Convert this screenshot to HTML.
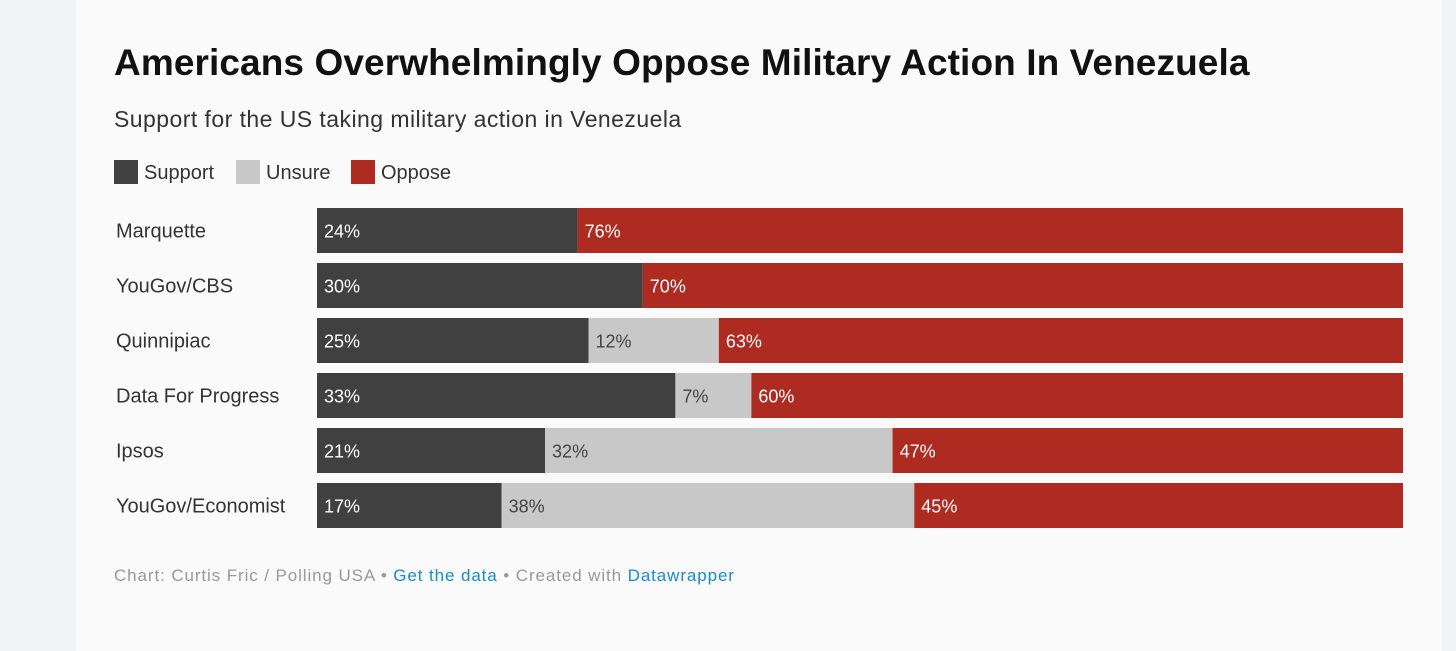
<!DOCTYPE html>
<html><head><meta charset="utf-8">
<style>
body{margin:0;width:1456px;height:651px;background:#f2f3f5;font-family:"Liberation Sans",sans-serif;position:relative;overflow:hidden}
#card{position:absolute;left:76px;top:0;width:1366px;height:651px;background:#fafafa}
.t{position:absolute;white-space:nowrap}
</style></head><body>
<div id="card"></div>
<div class="t" style="left:114px;top:42px;font-size:37px;font-weight:bold;color:#111;letter-spacing:0.1px">Americans Overwhelmingly Oppose Military Action In Venezuela</div>
<div class="t" style="left:114px;top:106px;font-size:23px;color:#333;letter-spacing:0.45px">Support for the US taking military action in Venezuela</div>
<div>
<div class="t" style="left:114px;top:160px;font-size:20px;color:#333"><span style="display:inline-block;width:24px;height:24px;background:#404040;vertical-align:-5px;margin-right:6px"></span>Support</div>
<div class="t" style="left:236px;top:160px;font-size:20px;color:#333"><span style="display:inline-block;width:24px;height:24px;background:#c8c8c8;vertical-align:-5px;margin-right:6px"></span>Unsure</div>
<div class="t" style="left:351px;top:160px;font-size:20px;color:#333"><span style="display:inline-block;width:24px;height:24px;background:#ad2b20;vertical-align:-5px;margin-right:6px"></span>Oppose</div>
</div>
<svg id="chart" width="1456" height="651" style="position:absolute;left:0;top:0"></svg>
<div class="t" style="left:114px;top:566px;font-size:17px;color:#999;letter-spacing:0.9px">Chart: Curtis Fric / Polling USA • <span style="color:#1a8ac6">Get the data</span> • Created with <span style="color:#1a8ac6">Datawrapper</span></div>
<script>
const categories=["Marquette","YouGov/CBS","Quinnipiac","Data For Progress","Ipsos","YouGov/Economist"];
const support=[24,30,25,33,21,17];
const unsure=[0,0,12,7,32,38];
const oppose=[76,70,63,60,47,45];
const svg=document.getElementById('chart');
const NS='http://www.w3.org/2000/svg';
const x0=317,x1=1403,y0=208,pitch=55,bh=45;
const xs=v=>x0+(x1-x0)*v/100;
function add(tag,attrs,name){const e=document.createElementNS(NS,tag);for(const k in attrs)e.setAttribute(k,attrs[k]);


svg.appendChild(e);return e;}
const series=[[support,'#404040','#fff','support'],[unsure,'#c8c8c8','#444','unsure'],[oppose,'#ad2b20','#fff','oppose']];
categories.forEach((c,i)=>{
  const y=y0+i*pitch;
  const lab=add('text',{x:116,y:y+bh/2+7,'font-size':20,fill:'#333','font-family':'Liberation Sans'},'row-label');
  lab.textContent=c;
  let acc=0;
  series.forEach(([arr,col,tc,nm])=>{
    const v=arr[i];if(!v)return;
    add('rect',{x:xs(acc),y:y,width:xs(acc+v)-xs(acc),height:bh,fill:col},'bar-'+nm);
    const t=add('text',{x:xs(acc)+7,y:y+bh/2+7,'font-size':18,fill:tc,'font-family':'Liberation Sans'},'value-'+nm);
    t.textContent=v+'%';
    acc+=v;
  });
});
</script>
</body></html>
